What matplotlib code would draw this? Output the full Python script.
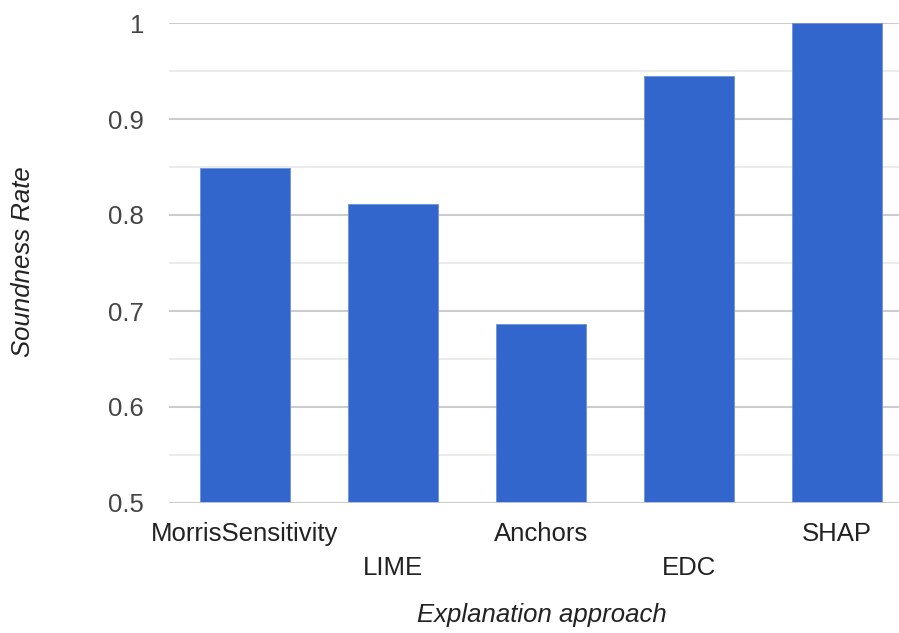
import matplotlib.pyplot as plt
from matplotlib.ticker import MultipleLocator
import matplotlib.transforms as mtransforms

plt.rcParams['font.family'] = ['Liberation Sans', 'DejaVu Sans']

approaches = ['MorrisSensitivity', 'LIME', 'Anchors', 'EDC', 'SHAP']
soundness = [0.849, 0.811, 0.686, 0.945, 1.0]
y_ticks = [0.5, 0.6, 0.7, 0.8, 0.9, 1.0]
y_tick_labels = ['0.5', '0.6', '0.7', '0.8', '0.9', '1']

fig = plt.figure(figsize=(8.99, 6.33), dpi=100)
ax = fig.add_axes([169 / 899, 130 / 633, 730 / 899, 480 / 633])

x = list(range(len(approaches)))
ax.bar(x, soundness, width=0.61, color='#3366cc', edgecolor='#6f93d9', linewidth=0.6, zorder=3)

ax.set_ylim(0.5, 1.0)
ax.set_xlim(-0.514, 4.42)
ax.set_yticks(y_ticks)
ax.set_yticklabels(y_tick_labels, color='#444444', fontsize=18.5)
ax.yaxis.set_minor_locator(MultipleLocator(0.05))
ax.grid(axis='y', which='major', color='#cccccc', linewidth=1.5, zorder=0)
ax.grid(axis='y', which='minor', color='#ebebeb', linewidth=1.5, zorder=0)
ax.axhline(0.5, color='#cccccc', linewidth=2, zorder=4)
ax.tick_params(axis='y', which='both', length=0, pad=18)
ax.tick_params(axis='x', length=0, pad=14)

ax.set_xticks(x)
ax.set_xticklabels(approaches, fontsize=18.5, color='#222222')
for i, lab in enumerate(ax.get_xticklabels()):
    if i % 2 == 1:
        lab.set_transform(lab.get_transform() + mtransforms.ScaledTranslation(0, -34 / 100, fig.dpi_scale_trans))

for s in ax.spines.values():
    s.set_visible(False)

ax.set_xlabel('Explanation approach', fontsize=18.5, style='italic', color='#222222')
ax.xaxis.set_label_coords(0.511, -0.208)
ax.set_ylabel('Soundness Rate', fontsize=18.5, style='italic', color='#222222')
ax.yaxis.set_label_coords(-0.183, 0.502)

fig.savefig('out.png', dpi=100, facecolor='white')
